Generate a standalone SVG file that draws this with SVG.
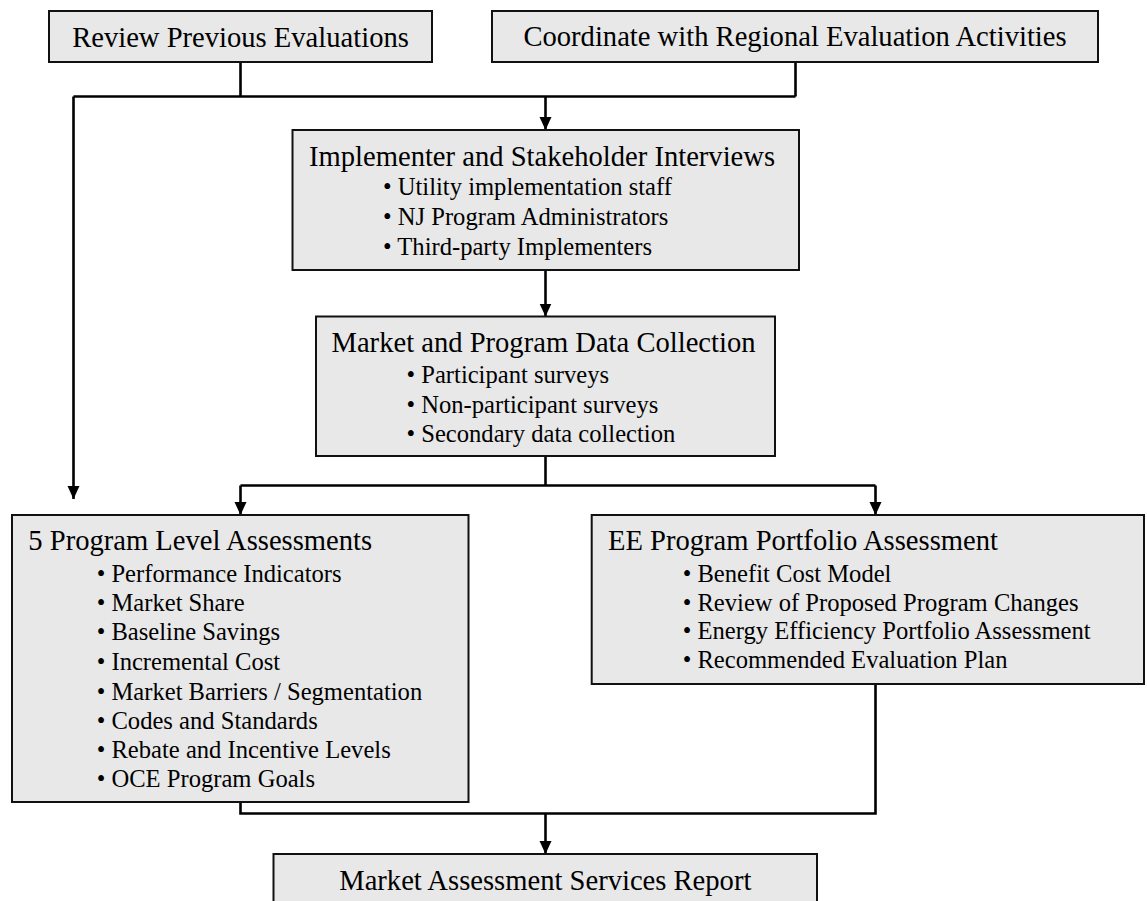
<svg xmlns="http://www.w3.org/2000/svg" width="1147" height="901" viewBox="0 0 1147 901">
<style>
.box{fill:#e8e8e8;stroke:#111;stroke-width:2}
.t{font-family:"Liberation Serif","Times New Roman",serif;font-size:28.6px;fill:#000}
.b{font-family:"Liberation Serif","Times New Roman",serif;font-size:24.6px;fill:#000}
.c{fill:none;stroke:#000;stroke-width:2.6}
</style>
<defs>
<marker id="ah" markerUnits="userSpaceOnUse" markerWidth="14" markerHeight="14" viewBox="0 -7 14 14" refX="13" refY="0" orient="auto">
<path d="M0,-6 L13,0 L0,6 z" fill="#000"/>
</marker>
</defs>
<rect width="1147" height="901" fill="#fff"/>
<g id="connectors">
<path class="c" d="M240.5,62 V96.5"/>
<path class="c" d="M795.5,62 V96.5"/>
<path class="c" d="M73.5,96.5 H795.5"/>
<path class="c" d="M73.5,96.5 V499" marker-end="url(#ah)"/>
<path class="c" d="M545.5,96.5 V130" marker-end="url(#ah)"/>
<path class="c" d="M545.5,270 V316.5" marker-end="url(#ah)"/>
<path class="c" d="M545.5,456 V485.5"/>
<path class="c" d="M240.5,485.5 H875.5"/>
<path class="c" d="M240.5,485.5 V515" marker-end="url(#ah)"/>
<path class="c" d="M875.5,485.5 V515" marker-end="url(#ah)"/>
<path class="c" d="M240.5,802 V813.5 H875.5 V684"/>
<path class="c" d="M545.5,813.5 V854" marker-end="url(#ah)"/>
</g>
<g id="review">
<rect class="box" x="49" y="11" width="383" height="51"/>
<text class="t" x="240.5" y="46.5" text-anchor="middle">Review Previous Evaluations</text>
</g>
<g id="coordinate">
<rect class="box" x="492" y="11" width="606" height="51"/>
<text class="t" x="795" y="46" text-anchor="middle">Coordinate with Regional Evaluation Activities</text>
</g>
<g id="interviews">
<rect class="box" x="292.5" y="130" width="506.5" height="140"/>
<text class="t" x="309" y="165.5">Implementer and Stakeholder Interviews</text>
<text class="b" x="383" y="195">• Utility implementation staff</text>
<text class="b" x="383" y="225">• NJ Program Administrators</text>
<text class="b" x="383" y="255">• Third-party Implementers</text>
</g>
<g id="datacollection">
<rect class="box" x="316" y="316.5" width="459" height="139.5"/>
<text class="t" x="331.5" y="352.3">Market and Program Data Collection</text>
<text class="b" x="406.5" y="383.3">• Participant surveys</text>
<text class="b" x="406.5" y="412.7">• Non-participant surveys</text>
<text class="b" x="406.5" y="441.7">• Secondary data collection</text>
</g>
<g id="programlevel">
<rect class="box" x="12" y="515" width="456.5" height="287"/>
<text class="t" x="28.3" y="550">5 Program Level Assessments</text>
<text class="b" x="96.7" y="582.3">• Performance Indicators</text>
<text class="b" x="96.7" y="611">• Market Share</text>
<text class="b" x="96.7" y="640">• Baseline Savings</text>
<text class="b" x="96.7" y="670">• Incremental Cost</text>
<text class="b" x="96.7" y="700">• Market Barriers / Segmentation</text>
<text class="b" x="96.7" y="728.5">• Codes and Standards</text>
<text class="b" x="96.7" y="758">• Rebate and Incentive Levels</text>
<text class="b" x="96.7" y="786.7">• OCE Program Goals</text>
</g>
<g id="portfolio">
<rect class="box" x="591.7" y="515" width="552.3" height="169"/>
<text class="t" x="608" y="550">EE Program Portfolio Assessment</text>
<text class="b" x="682.7" y="581.7">• Benefit Cost Model</text>
<text class="b" x="682.7" y="610.7">• Review of Proposed Program Changes</text>
<text class="b" x="682.7" y="639.3">• Energy Efficiency Portfolio Assessment</text>
<text class="b" x="682.7" y="668.3">• Recommended Evaluation Plan</text>
</g>
<g id="report">
<rect class="box" x="273.5" y="854" width="543.5" height="60"/>
<text class="t" x="545.3" y="890" text-anchor="middle">Market Assessment Services Report</text>
</g>
</svg>
